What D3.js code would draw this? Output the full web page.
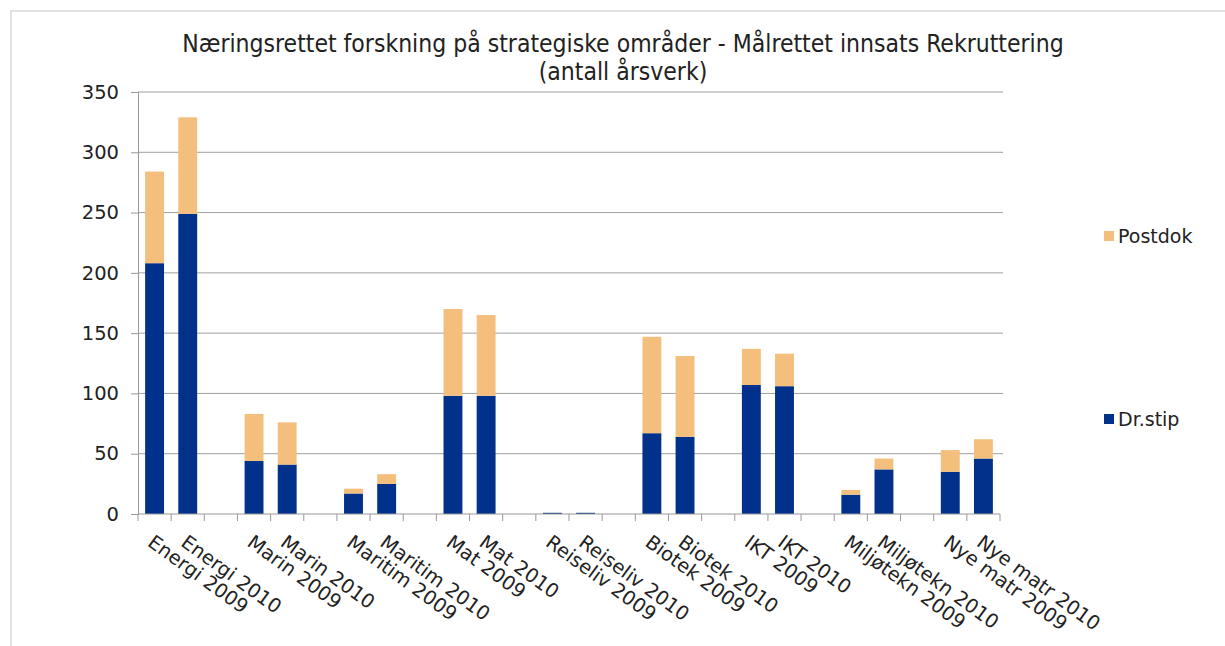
<!DOCTYPE html>
<html><head><meta charset="utf-8">
<script src="https://cdn.jsdelivr.net/npm/d3@7"></script>
<style>
body{margin:0;background:#fff;}
text{font-family:"DejaVu Sans",Verdana,sans-serif;fill:#222;}
</style></head>
<body><svg id="c" width="1225" height="646"></svg>
<script>
const groups = ["Energi","Marin","Maritim","Mat","Reiseliv","Biotek","IKT","Miljøtekn","Nye matr"];
const years = ["2009","2010"];
const categories = ["Energi 2009","Energi 2010","Marin 2009","Marin 2010","Maritim 2009","Maritim 2010","Mat 2009","Mat 2010","Reiseliv 2009","Reiseliv 2010","Biotek 2009","Biotek 2010","IKT 2009","IKT 2010","Miljøtekn 2009","Miljøtekn 2010","Nye matr 2009","Nye matr 2010"];
const drstip  = [208,249,44,41,17,25,98,98,1,1,67,64,107,106,16,37,35,46];
const postdok = [76,80,39,35,4,8,72,67,0,0,80,67,30,27,4,9,18,16];
const seriesNames = ["Dr.stip","Postdok"];
const colors = {"Dr.stip":"#01318a","Postdok":"#f4be7c"};
const yTicks = [0,50,100,150,200,250,300,350];
const titleLines = ["Næringsrettet forskning på strategiske områder - Målrettet innsats Rekruttering","(antall årsverk)"];

// slot keys: each pair of categories followed by an empty slot
const slots = [];
categories.forEach((c,i)=>{ slots.push(c); if(i%2===1 && i<categories.length-1) slots.push("__gap"+i); });

const svg = d3.select("#c");
const L=138,R=1000,T=92,B=514;

// frame
svg.append("path").attr("d","M11,646 V11 H1225").attr("fill","none").attr("stroke","#d9d9d9").attr("stroke-width",1.5);

const x = d3.scaleBand().domain(slots).range([L,R]).padding(0);
const y = d3.scaleLinear().domain([0,350]).range([B,T]);

// grid
svg.append("g").selectAll("line").data(yTicks.filter(d=>d>0)).join("line")
  .attr("x1",L).attr("x2",R+3).attr("y1",d=>y(d)).attr("y2",d=>y(d))
  .attr("stroke","#a0a0a0").attr("stroke-width",1);

// y axis
const ya = svg.append("g").attr("transform",`translate(${L},0)`)
  .call(d3.axisLeft(y).tickValues(yTicks).tickSize(7).tickPadding(12));
ya.select(".domain").attr("stroke","#999");
ya.selectAll(".tick line").attr("stroke","#999");
ya.selectAll("text").style("font-size","19.5px").attr("fill","#222").style("font-family","DejaVu Sans");

// stacked bars
const data = categories.map((c,i)=>({cat:c,"Dr.stip":drstip[i],"Postdok":postdok[i]}));
const stack = d3.stack().keys(seriesNames)(data);
const bw = x.bandwidth()*0.57;
svg.append("g").selectAll("g").data(stack).join("g").attr("fill",s=>colors[s.key])
  .selectAll("rect").data(s=>s).join("rect")
  .attr("x",d=>x(d.data.cat)+(x.bandwidth()-bw)/2)
  .attr("width",bw)
  .attr("y",d=>y(d[1]))
  .attr("height",d=>y(d[0])-y(d[1]));

// x axis
svg.append("line").attr("x1",L).attr("x2",R).attr("y1",B).attr("y2",B).attr("stroke","#999");
svg.append("g").selectAll("line").data(d3.range(slots.length+1)).join("line")
  .attr("x1",i=>L+i*x.step()).attr("x2",i=>L+i*x.step()).attr("y1",B).attr("y2",B+7).attr("stroke","#999");

svg.append("g").selectAll("text").data(categories).join("text")
  .attr("transform",c=>`translate(${x(c)+x.bandwidth()/2-8},${B+31}) rotate(36)`)
  .style("font-size","19.5px").text(c=>c);

// title
svg.append("g").selectAll("text").data(titleLines).join("text")
  .attr("x",623).attr("y",(d,i)=>52+i*28).attr("text-anchor","middle")
  .style("font-family","DejaVu Sans Condensed").style("font-size","24.5px").text(d=>d);

// legend
const legendItems = [{k:"Postdok",y:236},{k:"Dr.stip",y:419}];
const lg = svg.append("g");
lg.selectAll("rect").data(legendItems).join("rect")
  .attr("x",1104).attr("y",d=>d.y-5).attr("width",10).attr("height",10).attr("fill",d=>colors[d.k]);
lg.selectAll("text").data(legendItems).join("text")
  .attr("x",1118).attr("y",d=>d.y+7).style("font-size","19px").text(d=>d.k);
</script></body></html>
